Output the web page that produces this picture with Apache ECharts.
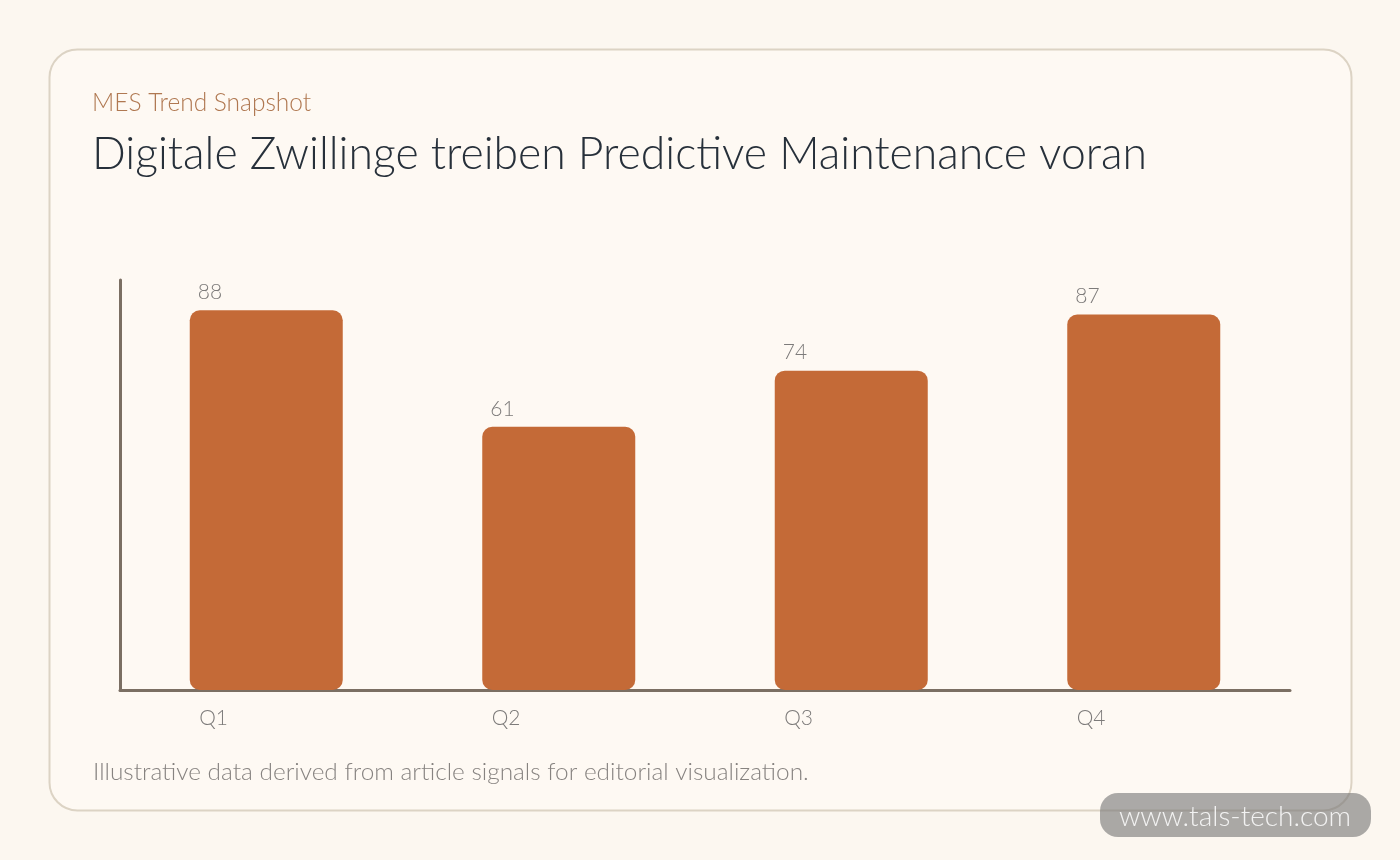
<!DOCTYPE html>
<html lang="de">
<head>
<meta charset="utf-8">
<title>MES Trend Snapshot</title>
<script src="https://cdn.jsdelivr.net/npm/echarts@6/dist/echarts.min.js"></script>
<style>
  html, body { margin: 0; padding: 0; background: #fcf7f0; }
  #main { width: 1400px; height: 860px; }
</style>
</head>
<body>
<div id="main"></div>
<script>
// data
var quarters = ['Q1', 'Q2', 'Q3', 'Q4'];
var scores = [88, 61, 74, 87];
var yMax = 95;

var FONT = 'Lato, "Noto Sans", sans-serif';
var myChart = echarts.init(document.getElementById('main'));

var option = {
    backgroundColor: '#fcf7f0',
    animation: false,
    title: [
        {
            text: 'MES Trend Snapshot',
            left: 87, top: 84,
            textStyle: { fontFamily: FONT, fontWeight: 300, fontSize: 24.5, color: '#b07851', lineHeight: 28 }
        },
        {
            text: 'Digitale Zwillinge treiben Predictive Maintenance voran',
            left: 87, top: 124,
            textStyle: { fontFamily: FONT, fontWeight: 300, fontSize: 44.5, color: '#27303a', lineHeight: 52 }
        },
        {
            text: 'Illustrative data derived from article signals for editorial visualization.',
            left: 88, top: 753,
            textStyle: { fontFamily: FONT, fontWeight: 300, fontSize: 24.4, color: '#878380', lineHeight: 28 }
        }
    ],
    graphic: [
        {
            type: 'rect', z: -10,
            shape: { x: 49.5, y: 49.5, width: 1302, height: 761, r: 28 },
            style: { fill: '#fef9f3', stroke: '#dcd3c4', lineWidth: 2 }
        },
        {
            type: 'group', z: 100,
            children: [
                {
                    type: 'rect',
                    shape: { x: 1100, y: 793, width: 271, height: 44, r: 18 },
                    style: { fill: 'rgba(120,120,120,0.62)' }
                },
                {
                    type: 'text',
                    style: {
                        x: 1235, y: 817, text: 'www.tals-tech.com',
                        align: 'center', verticalAlign: 'middle',
                        fontFamily: FONT, fontWeight: 300, fontSize: 28, fill: 'rgba(255,255,255,0.85)'
                    }
                }
            ]
        }
    ],
    grid: { left: 120, right: 110, top: 280, bottom: 170 },
    xAxis: {
        type: 'category',
        data: quarters,
        axisLine: { lineStyle: { color: '#7b6f63', width: 3 } },
        axisTick: { show: false },
        axisLabel: {
            margin: 18,
            formatter: function (v) { return '{q|' + v + '}'; },
            rich: {
                q: { width: 134, align: 'left', fontFamily: FONT, fontWeight: 300, fontSize: 21, color: '#7d7b7a' }
            }
        }
    },
    yAxis: {
        type: 'value',
        min: 0, max: yMax,
        axisLine: { show: true, lineStyle: { color: '#7b6f63', width: 3 } },
        axisTick: { show: false },
        axisLabel: { show: false },
        splitLine: { show: false }
    },
    series: [{
        type: 'bar',
        data: scores,
        barWidth: 153,
        itemStyle: { color: '#c46a37', borderRadius: 10 },
        label: {
            show: true,
            position: [8, -18],
            verticalAlign: 'middle',
            align: 'left',
            fontFamily: FONT, fontWeight: 300, fontSize: 21, color: '#7d7b7a'
        }
    }]
};

option && myChart.setOption(option);
</script>
</body>
</html>
